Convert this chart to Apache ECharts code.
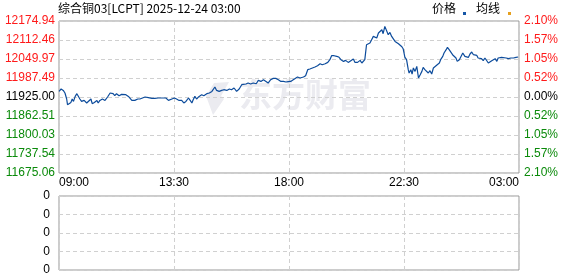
<!DOCTYPE html>
<html>
<head>
<meta charset="utf-8">
<script src="https://cdn.jsdelivr.net/npm/echarts@6/dist/echarts.min.js"></script>
<style>
html,body{margin:0;padding:0;background:#fff;}
#c{width:578px;height:276px;}
</style>
</head>
<body>
<div id="c"></div>
<script>
// minutes after 09:00 (trading day 09:00 -> 03:00 next day)
const minutes = [0,5,10,14,18,20,23,28,31,34,38,42,45,49,53,59,65,69,75,78,83,89,92,96,102,108,114,120,124,127,131,135,141,147,151,157,163,167,171,178,185,190,196,202,210,218,225,233,241,251,257,261,265,271,276,282,284,288,293,298,304,308,312,315,319,323,329,335,340,347,353,359,362,366,370,376,382,387,394,400,405,411,417,423,429,433,439,444,450,456,463,468,474,480,486,491,497,503,509,515,521,527,533,538,544,550,554,560,566,574,579,584,589,595,601,607,613,618,625,631,636,640,646,652,657,662,668,673,679,686,691,695,701,707,711,715,718,722,726,730,734,738,742,746,750,754,758,761,765,769,773,777,781,785,789,793,797,801,805,808,812,816,820,822,826,829,832,836,840,844,848,852,855,859,863,867,871,875,879,883,888,893,896,901,904,909,912,916,920,924,927,932,935,940,943,948,953,957,961,965,969,973,977,981,984,988,992,996,1000,1004,1008,1012,1016,1020,1024,1028,1031,1035,1039,1043,1050,1055,1061,1067,1073,1078];
const prices = [11943.4,11951.3,11946.7,11938.2,11918.4,11899.7,11903.0,11907.2,11918.4,11910.5,11927.0,11935.9,11938.2,11918.4,11910.5,11913.8,11905.3,11910.5,11918.4,11903.0,11907.2,11913.8,11905.3,11913.8,11918.4,11913.8,11925.0,11938.2,11932.6,11935.9,11929.3,11935.9,11929.3,11933.6,11929.3,11932.6,11927.0,11925.0,11913.8,11913.8,11918.4,11918.4,11921.7,11925.0,11922.7,11920.4,11920.4,11921.7,11921.7,11921.7,11913.8,11910.5,11918.4,11921.7,11918.4,11913.8,11916.1,11913.8,11905.3,11910.5,11921.7,11913.8,11905.3,11916.1,11927.0,11918.4,11927.0,11932.6,11929.3,11935.9,11938.2,11943.4,11938.2,11957.9,11946.7,11943.4,11946.7,11949.0,11946.7,11951.3,11949.0,11954.6,11943.4,11951.3,11965.5,11971.0,11967.8,11971.0,11967.8,11971.0,11968.7,11979.6,11976.3,11981.9,11976.3,11971.0,11981.9,11986.2,11986.2,11981.9,11976.3,11976.3,11974.3,11975.3,11976.3,11981.9,11984.2,11990.8,11987.5,11990.8,11995.0,12014.8,12017.1,12020.4,12023.7,12027.9,12034.5,12031.2,12034.5,12038.8,12047.7,12060.8,12060.8,12058.5,12056.5,12047.7,12042.1,12045.4,12038.8,12045.4,12050.0,12038.8,12038.8,12045.4,12036.8,12042.1,12047.7,12097.0,12091.4,12102.6,12113.4,12124.3,12129.9,12119.0,12135.5,12129.9,12146.3,12133.2,12157.2,12159.5,12129.9,12137.4,12124.3,12119.0,12107.9,12102.6,12100.3,12104.6,12090.4,12083.8,12055.9,12047.7,12014.8,12003.9,12014.8,12000.6,12020.4,12009.2,12025.6,11987.5,11998.3,12009.2,12022.3,12014.8,12009.2,12003.9,12011.5,12000.6,12020.4,12025.6,12031.2,12036.8,12047.7,12058.5,12069.7,12080.6,12088.1,12080.6,12077.3,12064.1,12066.4,12053.3,12042.1,12047.7,12053.3,12069.7,12058.5,12064.1,12055.2,12066.4,12073.0,12064.1,12058.5,12061.8,12053.3,12047.7,12051.0,12044.4,12053.3,12047.7,12036.8,12042.1,12044.4,12042.1,12051.0,12042.1,12053.3,12051.0,12055.2,12051.0,12053.3,12051.0,12053.3,12053.3,12055.2,12056.5];
const timeLabels = ["09:00","13:30","18:00","22:30","03:00"];
const priceLabels = ["11675.06","11737.54","11800.03","11862.51","11925.00","11987.49","12049.97","12112.46","12174.94"];
const pctLabels = ["2.10%","1.57%","1.05%","0.52%","0.00%","0.52%","1.05%","1.57%","2.10%"];
const volLabels = ["0","0","0","0","0"];
const priceMin = 11675.06, priceMax = 12174.94;

const chart = echarts.init(document.getElementById('c'), null, {renderer:'canvas'});
const FONT = 'Liberation Sans, Arial, sans-serif';
const dash = {show:true, lineStyle:{color:'#d0d0d0', type:[4,3], width:1}};
const lblColor = (v) => { v = Number(v); return v < 4 ? '#0a8a0a' : (v > 4 ? '#ff1a1a' : '#000'); };

chart.setOption({
  animation:false,
  backgroundColor:'#fff',
  grid:[
    {left:59, top:21, width:460, height:152, show:true, borderColor:'#999', borderWidth:1, backgroundColor:'transparent'},
    {left:59, top:196, width:460, height:74, show:true, borderColor:'#999', borderWidth:1, backgroundColor:'transparent'}
  ],
  graphic:[
    {type:'text', left:58, top:2, z:10, style:{text:'综合铜03[LCPT] 2025-12-24 03:00', font:'12px "Noto Sans CJK SC", sans-serif', fill:'#000'}},
    {type:'text', left:432, top:2, z:10, style:{text:'价格', font:'12px "Noto Sans CJK SC", sans-serif', fill:'#000'}},
    {type:'rect', shape:{x:463, y:12, width:3, height:3}, z:10, style:{fill:'#1656a6'}},
    {type:'text', left:476, top:2, z:10, style:{text:'均线', font:'12px "Noto Sans CJK SC", sans-serif', fill:'#000'}},
    {type:'rect', shape:{x:508, y:12, width:3, height:3}, z:10, style:{fill:'#e6a01e'}},
    {type:'polygon', z:0, shape:{points:[[214,83],[229,82],[221,96],[224,99],[213,115],[209,104],[206,96]]}, style:{fill:'#ebebf0'}},
    {type:'text', left:239, top:78, z:0, style:{text:'东方财富', font:'bold 33px "Noto Sans CJK SC", sans-serif', fill:'#ebebf0'}}
  ],
  xAxis:[
    {type:'value', gridIndex:0, min:0, max:1080, interval:270,
     axisLine:{show:false}, axisTick:{show:false},
     axisLabel:{show:true, margin:4, color:'#000', fontSize:12, fontFamily:FONT,
       formatter:(v)=>timeLabels[Math.round(v/270)], alignMinLabel:'left', alignMaxLabel:'right', showMinLabel:true, showMaxLabel:true},
     splitLine:dash},
    {type:'value', gridIndex:1, min:0, max:1080, interval:270,
     axisLine:{show:false}, axisTick:{show:false}, axisLabel:{show:false}, splitLine:dash}
  ],
  yAxis:[
    {type:'value', gridIndex:0, min:priceMin, max:priceMax, show:false, splitLine:{show:false}},
    {type:'value', gridIndex:0, position:'left', min:0, max:8, interval:1,
     axisLine:{show:false}, axisTick:{show:false},
     axisLabel:{margin:4, fontSize:12, fontFamily:FONT, color:lblColor, formatter:(v)=>priceLabels[v]},
     splitLine:dash},
    {type:'value', gridIndex:0, position:'right', min:0, max:8, interval:1,
     axisLine:{show:false}, axisTick:{show:false},
     axisLabel:{margin:5, fontSize:12, fontFamily:FONT, color:lblColor, formatter:(v)=>pctLabels[v]},
     splitLine:{show:false}},
    {type:'value', gridIndex:1, position:'left', min:0, max:4, interval:1,
     axisLine:{show:false}, axisTick:{show:false},
     axisLabel:{margin:9, fontSize:12, fontFamily:FONT, color:'#000', formatter:(v)=>volLabels[v]},
     splitLine:dash}
  ],
  series:[
    {name:'价格', type:'line', xAxisIndex:0, yAxisIndex:0, showSymbol:false, z:5,
     lineStyle:{color:'#0d4c9c', width:1.2}, data:minutes.map((m,i)=>[m, prices[i]])}
  ]
});
</script>
</body>
</html>
